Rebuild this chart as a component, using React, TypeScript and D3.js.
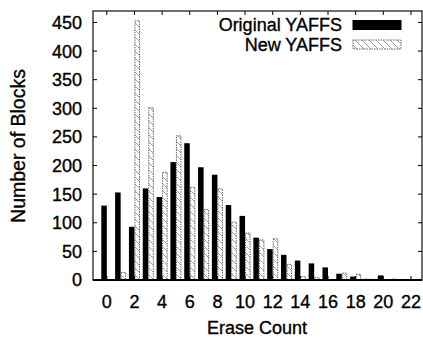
import React, { useEffect, useRef } from "react";
import * as d3 from "d3";

// erase count buckets
const eraseCounts = [0, 1, 2, 3, 4, 5, 6, 7, 8, 9, 10, 11, 12, 13, 14, 15, 16, 17, 18, 19, 20, 21, 22];
const originalYaffs = [130, 153, 93, 160, 145, 206, 239, 197, 184, 131, 112, 74, 54, 44, 34, 29, 22, 11, 6, 2, 8, 2, 1];
const newYaffs = [0, 13, 453, 301, 188, 252, 162, 123, 159, 101, 82, 70, 72, 27, 6, 4, 0, 12, 10, 1, 0, 0, 0];
const yTicks = [0, 50, 100, 150, 200, 250, 300, 350, 400, 450];
const xTicks = [0, 2, 4, 6, 8, 10, 12, 14, 16, 18, 20, 22];

const FONT = "'Liberation Sans', Arial, Helvetica, sans-serif";

const App = () => {
  const ref = useRef<SVGSVGElement>(null);

  useEffect(() => {
    const svg = d3.select(ref.current);
    svg.selectAll("*").remove();

    const width = 423;
    const height = 338;
    const m = { left: 93, right: 422, top: 11, bottom: 280 };

    const x = d3.scaleLinear().domain([-1, 22.8]).range([m.left, m.right]);
    const y = d3.scaleLinear().domain([0, 470]).range([m.bottom, m.top]);

    // hatch pattern for New YAFFS
    const defs = svg.append("defs");
    const pat = defs
      .append("pattern")
      .attr("id", "hatch")
      .attr("patternUnits", "userSpaceOnUse")
      .attr("width", 7)
      .attr("height", 7);
    pat.append("rect").attr("width", 7).attr("height", 7).attr("fill", "#fff");
    pat
      .append("path")
      .attr("d", "M0,0 L7,7 M-1,6 L1,8 M6,-1 L8,1")
      .attr("stroke", "#8a8a8a")
      .attr("stroke-width", 0.8);

    const g = svg.append("g");
    const bw = x(0.4) - x(0);

    // black bars
    g.selectAll(".orig")
      .data(eraseCounts)
      .enter()
      .append("rect")
      .attr("x", (d) => x(d - 0.4))
      .attr("y", (d, i) => y(originalYaffs[i]))
      .attr("width", bw)
      .attr("height", (d, i) => y(0) - y(originalYaffs[i]))
      .attr("fill", "#000");

    // hatched bars
    g.selectAll(".new")
      .data(eraseCounts.filter((d, i) => newYaffs[i] > 0))
      .enter()
      .append("rect")
      .attr("x", (d) => x(d) + 0.5)
      .attr("y", (d) => y(newYaffs[d]))
      .attr("width", bw - 1)
      .attr("height", (d) => y(0) - y(newYaffs[d]))
      .attr("fill", "url(#hatch)")
      .attr("stroke", "#666")
      .attr("stroke-width", 1)
      .attr("stroke-dasharray", "1.5,1");

    // frame
    svg
      .append("rect")
      .attr("x", m.left)
      .attr("y", m.top)
      .attr("width", m.right - m.left)
      .attr("height", m.bottom - m.top)
      .attr("fill", "none")
      .attr("stroke", "#222")
      .attr("stroke-width", 1.3);
    svg
      .append("line")
      .attr("x1", m.left)
      .attr("x2", m.right)
      .attr("y1", m.bottom)
      .attr("y2", m.bottom)
      .attr("stroke", "#000")
      .attr("stroke-width", 2);

    // y ticks (inward, mirrored)
    yTicks.forEach((t) => {
      svg.append("line").attr("x1", m.left).attr("x2", m.left + 4).attr("y1", y(t)).attr("y2", y(t)).attr("stroke", "#000");
      svg.append("line").attr("x1", m.right - 4).attr("x2", m.right).attr("y1", y(t)).attr("y2", y(t)).attr("stroke", "#000");
    });

    const label = (sel: any, size = 18) =>
      sel
        .attr("font-family", FONT)
        .attr("font-size", size)
        .attr("fill", "#000")
        .attr("stroke", "#000")
        .attr("stroke-width", 0.35);

    svg
      .append("g")
      .selectAll("text")
      .data(yTicks)
      .enter()
      .append("text")
      .attr("x", 82)
      .attr("y", (d) => y(d))
      .attr("dy", "0.36em")
      .attr("text-anchor", "end")
      .call(label)
      .text((d) => d);

    // x ticks
    xTicks.forEach((t) => {
      svg.append("line").attr("x1", x(t)).attr("x2", x(t)).attr("y1", m.bottom).attr("y2", m.bottom - 4).attr("stroke", "#000");
      svg.append("line").attr("x1", x(t)).attr("x2", x(t)).attr("y1", m.top).attr("y2", m.top + 4).attr("stroke", "#000");
    });
    svg
      .append("g")
      .selectAll("text")
      .data(xTicks)
      .enter()
      .append("text")
      .attr("x", (d) => x(d))
      .attr("y", 302)
      .attr("dy", "0.36em")
      .attr("text-anchor", "middle")
      .call(label)
      .text((d) => d);

    // axis titles
    svg
      .append("text")
      .attr("x", 257)
      .attr("y", 328)
      .attr("dy", "0.36em")
      .attr("text-anchor", "middle")
      .call(label)
      .text("Erase Count");
    svg
      .append("text")
      .attr("transform", "translate(18,146) rotate(-90)")
      .attr("dy", "0.36em")
      .attr("text-anchor", "middle")
      .call(label, 19.5)
      .text("Number of Blocks");

    // legend
    const legend = [
      { label: "Original YAFFS", fill: "#000", y: 25 },
      { label: "New YAFFS", fill: "url(#hatch)", y: 44.5 },
    ];
    legend.forEach((l) => {
      svg
        .append("text")
        .attr("x", 342)
        .attr("y", l.y)
        .attr("dy", "0.36em")
        .attr("text-anchor", "end")
        .call(label)
        .text(l.label);
      svg
        .append("rect")
        .attr("x", 353)
        .attr("y", l.y - 4.5)
        .attr("width", 48)
        .attr("height", 9)
        .attr("fill", l.fill)
        .attr("stroke", l.fill === "#000" ? "#000" : "#666")
        .attr("stroke-dasharray", l.fill === "#000" ? null : "1.5,1");
    });

    svg.attr("width", width).attr("height", height);
  }, []);

  return (
    <svg
      ref={ref}
      style={{ position: "absolute", left: 0, top: 0, background: "#fff" }}
    ></svg>
  );
};

export default App;
